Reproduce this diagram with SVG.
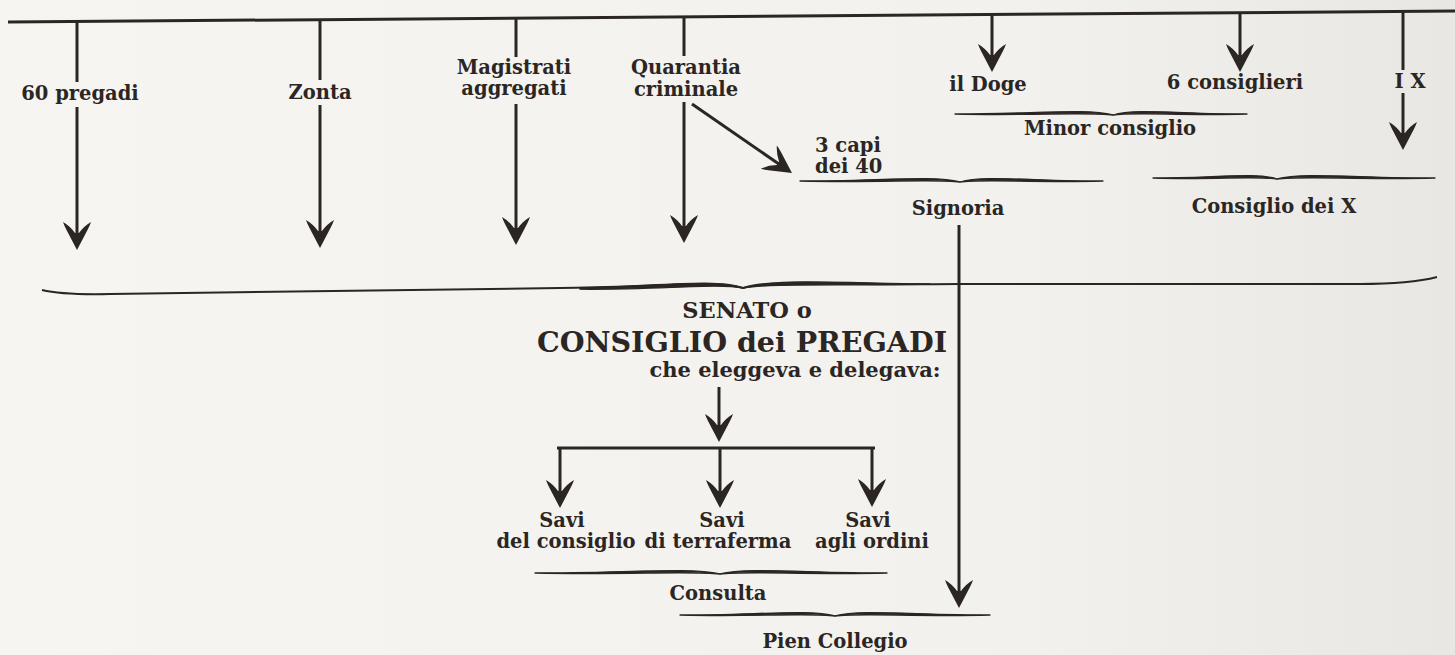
<svg xmlns="http://www.w3.org/2000/svg" width="1455" height="655" viewBox="0 0 1455 655">
  <defs>
    <linearGradient id="paper" x1="0" y1="0" x2="1" y2="0">
      <stop offset="0" stop-color="#f6f5f2"/>
      <stop offset="0.7" stop-color="#f2f1ed"/>
      <stop offset="1" stop-color="#e9e7e3"/>
    </linearGradient>
    <marker id="ah" viewBox="-30 -16 32 32" markerWidth="32" markerHeight="32" refX="-8" refY="0" orient="auto" markerUnits="userSpaceOnUse">
      <path d="M0,0 L-21,-11 Q-25,-13 -28,-14 Q-24,-7 -17,-2 L-17,2 Q-24,7 -28,14 Q-25,13 -21,11 Z" fill="#2b2624"/>
    </marker>
    <style>
      .t { font-family: "DejaVu Serif", "Liberation Serif", serif; font-weight: bold; fill: #2b2624; text-anchor: middle; font-size: 19.5px; }
      .ts { text-anchor: start; }
      .ln { stroke: #2b2624; stroke-width: 3; fill: none; }
      .ar { stroke: #2b2624; stroke-width: 3; fill: none; marker-end: url(#ah); }
      .br { fill: #2b2624; stroke: #2b2624; stroke-width: 1.3; stroke-linejoin: round; }
      .bl { fill: none; stroke: #2b2624; stroke-width: 2; }
    </style>
  </defs>
  <rect x="0" y="0" width="1455" height="655" fill="url(#paper)"/>

  <g id="connectors">
    <path class="ln" d="M8,22 L1455,11"/>
    <line class="ln" x1="77" y1="22" x2="77" y2="82"/>
    <line class="ar" x1="77" y1="107" x2="77" y2="242"/>
    <line class="ln" x1="320" y1="20" x2="320" y2="80"/>
    <line class="ar" x1="320" y1="105" x2="320" y2="240"/>
    <line class="ln" x1="516" y1="18" x2="516" y2="57"/>
    <line class="ar" x1="516" y1="104" x2="516" y2="237"/>
    <line class="ln" x1="684" y1="17" x2="684" y2="56"/>
    <line class="ar" x1="684" y1="102" x2="684" y2="235"/>
    <line class="ar" x1="692" y1="104" x2="785.4" y2="168.5"/>
    <line class="ar" x1="992" y1="14" x2="992" y2="64"/>
    <line class="ar" x1="1240" y1="13" x2="1240" y2="64"/>
    <line class="ln" x1="1403" y1="12" x2="1403" y2="70"/>
    <line class="ar" x1="1403" y1="93" x2="1403" y2="142"/>
    <line class="ar" x1="959" y1="225" x2="959" y2="600"/>
    <line class="ar" x1="719" y1="387" x2="719" y2="434"/>
    <line class="ln" x1="557" y1="448" x2="875" y2="448"/>
    <line class="ar" x1="560" y1="448" x2="560" y2="500"/>
    <line class="ar" x1="720" y1="448" x2="720" y2="500"/>
    <line class="ar" x1="872" y1="448" x2="872" y2="499"/>
  </g>

  <g id="braces">
    <path class="br" d="M955,114 C1034,114 1087,108 1113,115 C1087,111.5 1034,116 955,114 Z"/>
    <path class="br" d="M1113,115 C1135,108 1180,114 1247,114 C1180,116 1135,111.5 1113,115 Z"/>
    <path class="br" d="M800,181 C880,181 934,175 960,182 C934,178.5 880,183 800,181 Z"/>
    <path class="br" d="M960,182 C983,175 1031,181 1103,181 C1031,183 983,178.5 960,182 Z"/>
    <path class="br" d="M1153,178 C1215,178 1256,172 1277,179 C1256,175.5 1215,180 1153,178 Z"/>
    <path class="br" d="M1277,179 C1303,172 1356,178 1435,178 C1356,180 1303,175.5 1277,179 Z"/>
    <path class="bl" d="M42,290 Q62,295 110,294 L560,288 C650,287 720,281 743,288 C765,281 850,285 960,284 L1360,284 Q1410,284 1437,277"/>
    <path class="br" d="M580,288 C660,286 718,278 743,288 C716,283 660,290 580,289.2 Z"/>
    <path class="br" d="M743,288 C770,278 840,283 930,284 C840,286 770,283 743,288 Z"/>
    <path class="br" d="M535,573 C627,573 690,567 720,574 C690,570.5 627,575 535,573 Z"/>
    <path class="br" d="M720,574 C747,567 804,573 887,573 C804,575 747,570.5 720,574 Z"/>
    <path class="br" d="M680,615 C758,615 810,609 835,616 C810,612.5 758,617 680,615 Z"/>
    <path class="br" d="M835,616 C860,609 913,615 990,615 C913,617 860,612.5 835,616 Z"/>
  </g>

  <g id="n-pregadi"><text class="t" x="80" y="100">60 pregadi</text></g>
  <g id="n-zonta"><text class="t" x="320" y="99">Zonta</text></g>
  <g id="n-magistrati"><text class="t" x="514" y="74">Magistrati</text><text class="t" x="514" y="95">aggregati</text></g>
  <g id="n-quarantia"><text class="t" x="686" y="74">Quarantia</text><text class="t" x="686" y="96">criminale</text></g>
  <g id="n-capi"><text class="t ts" x="815" y="152">3 capi</text><text class="t ts" x="815" y="173">dei 40</text></g>
  <g id="n-doge"><text class="t" x="988" y="91">il Doge</text></g>
  <g id="n-consiglieri"><text class="t" x="1235" y="89">6 consiglieri</text></g>
  <g id="n-ix"><text class="t" x="1410" y="88">I X</text></g>
  <g id="n-minor"><text class="t" x="1110" y="135">Minor consiglio</text></g>
  <g id="n-signoria"><text class="t" x="958" y="215">Signoria</text></g>
  <g id="n-dieci"><text class="t" x="1274" y="213">Consiglio dei X</text></g>
  <g id="n-senato">
    <text class="t" x="747" y="318" style="font-size:22.5px">SENATO o</text>
    <text class="t" x="742" y="352" style="font-size:28.5px">CONSIGLIO dei PREGADI</text>
    <text class="t" x="795" y="377" style="font-size:21px">che eleggeva e delegava:</text>
  </g>
  <g id="n-savi-consiglio"><text class="t" x="562" y="527">Savi</text><text class="t" x="566" y="548">del consiglio</text></g>
  <g id="n-savi-terraferma"><text class="t" x="722" y="527">Savi</text><text class="t" x="718" y="548">di terraferma</text></g>
  <g id="n-savi-ordini"><text class="t" x="868" y="527">Savi</text><text class="t" x="872" y="548">agli ordini</text></g>
  <g id="n-consulta"><text class="t" x="718" y="600">Consulta</text></g>
  <g id="n-pien"><text class="t" x="835" y="648">Pien Collegio</text></g>
</svg>
